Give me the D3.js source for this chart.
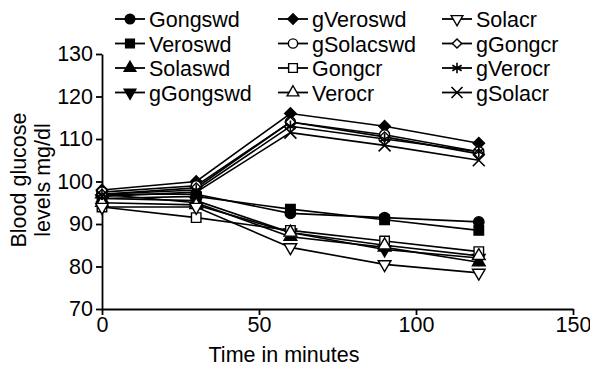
<!DOCTYPE html>
<html>
<head>
<meta charset="utf-8">
<script src="https://cdn.jsdelivr.net/npm/d3@7"></script>
<style>
  body { margin: 0; background: #fff; }
  svg text { font-family: "Liberation Sans", Arial, sans-serif; fill: #000; }
</style>
</head>
<body>
<div id="chart"></div>
<script>
// time points (minutes)
const times = [0, 30, 60, 90, 120];

const seriesNames = ["Gongswd", "Veroswd", "Solaswd", "gGongswd",
  "gVeroswd", "gSolacswd", "Gongcr", "Verocr",
  "Solacr", "gGongcr", "gVerocr", "gSolacr"];

// blood glucose mg/dl
const Gongswd   = [97, 97, 92.5, 91.5, 90.5];
const Veroswd   = [96, 96.5, 93.5, 91, 88.5];
const Solaswd   = [97, 95, 87, 84.5, 81];
const gGongswd  = [96, 95.5, 88, 84, 82];
const gVeroswd  = [98, 100, 116, 113, 109];
const gSolacswd = [97.5, 99, 114, 111, 107];
const Gongcr    = [94, 91.5, 88.5, 86, 83.5];
const Verocr    = [95, 94.5, 88, 85, 82.5];
const Solacr    = [94, 94, 84.5, 80.5, 78.5];
const gGongcr   = [97, 98.5, 114, 110.5, 106.5];
const gVerocr   = [97, 98, 113, 110, 107];
const gSolacr   = [96.5, 97.5, 111.5, 108.5, 105];

const values = [Gongswd, Veroswd, Solaswd, gGongswd, gVeroswd, gSolacswd,
  Gongcr, Verocr, Solacr, gGongcr, gVerocr, gSolacr];

const xTicks = [0, 50, 100, 150];
const yTicks = [70, 80, 90, 100, 110, 120, 130];

// marker styles per series (diamonds are rotated squares)
const markers = [
  { type: d3.symbolCircle, fill: true, rot: 0 },
  { type: d3.symbolSquare, fill: true, rot: 0 },
  { type: d3.symbolTriangle, fill: true, rot: 0 },
  { type: d3.symbolTriangle, fill: true, rot: 180 },
  { type: d3.symbolSquare, fill: true, rot: 45 },
  { type: d3.symbolCircle, fill: false, rot: 0 },
  { type: d3.symbolSquare, fill: false, rot: 0 },
  { type: d3.symbolTriangle, fill: false, rot: 0 },
  { type: d3.symbolTriangle, fill: false, rot: 180 },
  { type: d3.symbolSquare, fill: false, rot: 45 },
  { type: d3.symbolAsterisk, fill: false, rot: 0, stroke: true },
  { type: d3.symbolTimes, fill: false, rot: 0, stroke: true }
];
const symSize = [85, 90, 70, 70, 65, 80, 90, 70, 70, 50, 95, 95];

const W = 590, H = 368;
const x0 = 102, x1 = 573, yTop = 54, yBot = 309;
const fs = '21.5px';

const svg = d3.select('#chart').append('svg')
  .attr('width', W).attr('height', H);

const xScale = d3.scaleLinear().domain([0, 150]).range([x0, x1]);
const yScale = d3.scaleLinear().domain([70, 130]).range([yBot, yTop]);

// axes
const xAxis = svg.append('g')
  .attr('transform', `translate(0,${yBot})`)
  .call(d3.axisBottom(xScale).tickValues(xTicks).tickSize(6).tickSizeOuter(0).tickPadding(2));
const yAxis = svg.append('g')
  .attr('transform', `translate(${x0},0)`)
  .call(d3.axisLeft(yScale).tickValues(yTicks).tickSize(6).tickSizeOuter(0).tickPadding(3));

[xAxis, yAxis].forEach(a => {
  a.select('.domain').attr('stroke', '#000').attr('stroke-width', 1.8);
  a.selectAll('.tick line').attr('stroke', '#000').attr('stroke-width', 1.8);
  a.selectAll('.tick text').style('font-size', fs)
    .style('font-family', '"Liberation Sans", Arial, sans-serif');
});

svg.append('text')
  .attr('x', 284)
  .attr('y', 362)
  .attr('text-anchor', 'middle')
  .style('font-size', fs)
  .text('Time in minutes');

const yTitle = svg.append('text')
  .attr('transform', 'translate(26,180) rotate(-90)')
  .attr('text-anchor', 'middle')
  .style('font-size', fs);
yTitle.append('tspan').attr('x', 0).attr('y', 0).text('Blood glucose');
yTitle.append('tspan').attr('x', 0).attr('y', 24).text('levels mg/dl');

function drawMarker(g, i, cx, cy, k) {
  const m = markers[i];
  g.append('path')
    .attr('d', d3.symbol().type(m.type).size(symSize[i] * k)())
    .attr('transform', `translate(${cx},${cy}) rotate(${m.rot})`)
    .attr('fill', m.fill ? '#000' : (m.stroke ? 'none' : '#fff'))
    .attr('stroke', '#000')
    .attr('stroke-width', m.stroke ? 1.6 : 1.4);
}

// lines
const line = d3.line()
  .x((d, j) => xScale(times[j]))
  .y(d => yScale(d));

const plot = svg.append('g');
values.forEach((vals, i) => {
  plot.append('path')
    .attr('d', line(vals))
    .attr('fill', 'none')
    .attr('stroke', '#000')
    .attr('stroke-width', 1.6);
});
values.forEach((vals, i) => {
  const g = plot.append('g');
  vals.forEach((v, j) => drawMarker(g, i, xScale(times[j]), yScale(v), 1));
});

// legend: 3 columns x 4 rows
const legCols = [115, 278, 442];
const legRowY = [19, 43.5, 68, 92.5];
const legend = svg.append('g');
seriesNames.forEach((name, i) => {
  const col = Math.floor(i / 4), row = i % 4;
  const lx = legCols[col], ly = legRowY[row];
  const g = legend.append('g');
  g.append('line')
    .attr('x1', lx).attr('x2', lx + 30)
    .attr('y1', ly).attr('y2', ly)
    .attr('stroke', '#000').attr('stroke-width', 1.8);
  drawMarker(g, i, lx + 15, ly, 0.85);
  g.append('text')
    .attr('x', lx + 34)
    .attr('y', ly + 8)
    .style('font-size', fs)
    .text(name);
});
</script>
</body>
</html>
